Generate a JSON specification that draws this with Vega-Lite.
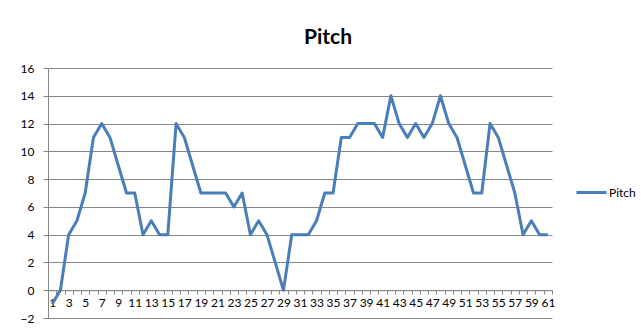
{
  "$schema": "https://vega.github.io/schema/vega-lite/v6.json",
  "autosize": "none",
  "width": 504,
  "height": 250,
  "padding": {"left": 48, "top": 68, "right": 89, "bottom": 13},
  "background": "white",
  "title": {"text": "Pitch", "font": "Lato", "fontSize": 21, "fontWeight": "bold", "color": "#000000", "anchor": "middle", "dx": 28, "dy": 26, "offset": 23, "baseline": "alphabetic"},
  "config": {
    "view": {"stroke": null},
    "font": "Lato"
  },
  "data": {"values": [
    {"x": 1, "y": -1, "s": "Pitch"}, {"x": 2, "y": 0, "s": "Pitch"}, {"x": 3, "y": 4, "s": "Pitch"}, {"x": 4, "y": 5, "s": "Pitch"},
    {"x": 5, "y": 7, "s": "Pitch"}, {"x": 6, "y": 11, "s": "Pitch"}, {"x": 7, "y": 12, "s": "Pitch"}, {"x": 8, "y": 11, "s": "Pitch"},
    {"x": 9, "y": 9, "s": "Pitch"}, {"x": 10, "y": 7, "s": "Pitch"}, {"x": 11, "y": 7, "s": "Pitch"}, {"x": 12, "y": 4, "s": "Pitch"},
    {"x": 13, "y": 5, "s": "Pitch"}, {"x": 14, "y": 4, "s": "Pitch"}, {"x": 15, "y": 4, "s": "Pitch"}, {"x": 16, "y": 12, "s": "Pitch"},
    {"x": 17, "y": 11, "s": "Pitch"}, {"x": 18, "y": 9, "s": "Pitch"}, {"x": 19, "y": 7, "s": "Pitch"}, {"x": 20, "y": 7, "s": "Pitch"},
    {"x": 21, "y": 7, "s": "Pitch"}, {"x": 22, "y": 7, "s": "Pitch"}, {"x": 23, "y": 6, "s": "Pitch"}, {"x": 24, "y": 7, "s": "Pitch"},
    {"x": 25, "y": 4, "s": "Pitch"}, {"x": 26, "y": 5, "s": "Pitch"}, {"x": 27, "y": 4, "s": "Pitch"}, {"x": 28, "y": 2, "s": "Pitch"},
    {"x": 29, "y": 0, "s": "Pitch"}, {"x": 30, "y": 4, "s": "Pitch"}, {"x": 31, "y": 4, "s": "Pitch"}, {"x": 32, "y": 4, "s": "Pitch"},
    {"x": 33, "y": 5, "s": "Pitch"}, {"x": 34, "y": 7, "s": "Pitch"}, {"x": 35, "y": 7, "s": "Pitch"}, {"x": 36, "y": 11, "s": "Pitch"},
    {"x": 37, "y": 11, "s": "Pitch"}, {"x": 38, "y": 12, "s": "Pitch"}, {"x": 39, "y": 12, "s": "Pitch"}, {"x": 40, "y": 12, "s": "Pitch"},
    {"x": 41, "y": 11, "s": "Pitch"}, {"x": 42, "y": 14, "s": "Pitch"}, {"x": 43, "y": 12, "s": "Pitch"}, {"x": 44, "y": 11, "s": "Pitch"},
    {"x": 45, "y": 12, "s": "Pitch"}, {"x": 46, "y": 11, "s": "Pitch"}, {"x": 47, "y": 12, "s": "Pitch"}, {"x": 48, "y": 14, "s": "Pitch"},
    {"x": 49, "y": 12, "s": "Pitch"}, {"x": 50, "y": 11, "s": "Pitch"}, {"x": 51, "y": 9, "s": "Pitch"}, {"x": 52, "y": 7, "s": "Pitch"},
    {"x": 53, "y": 7, "s": "Pitch"}, {"x": 54, "y": 12, "s": "Pitch"}, {"x": 55, "y": 11, "s": "Pitch"}, {"x": 56, "y": 9, "s": "Pitch"},
    {"x": 57, "y": 7, "s": "Pitch"}, {"x": 58, "y": 4, "s": "Pitch"}, {"x": 59, "y": 5, "s": "Pitch"}, {"x": 60, "y": 4, "s": "Pitch"},
    {"x": 61, "y": 4, "s": "Pitch"}
  ]},
  "mark": {"type": "line", "strokeWidth": 3, "strokeJoin": "round"},
  "encoding": {
    "x": {
      "field": "x", "type": "ordinal", "sort": null, "bandPosition": 0.5,
      "scale": {"type": "band", "paddingInner": 0, "paddingOuter": 0},
      "axis": {
        "title": null, "grid": false, "labelAngle": 0, "labelOverlap": false,
        "labelExpr": "datum.value % 2 == 1 ? datum.label : ''",
        "tickBand": "extent", "tickSize": 4, "tickColor": "#868686", "domainColor": "#868686",
        "labelFontSize": 12, "labelColor": "#000000", "labelPadding": 3, "offset": -27.8
      }
    },
    "y": {
      "field": "y", "type": "quantitative",
      "scale": {"domain": [-2, 16], "nice": false, "zero": false},
      "axis": {
        "title": null, "values": [-2, 0, 2, 4, 6, 8, 10, 12, 14, 16],
        "gridColor": "#868686", "gridWidth": 1, "tickColor": "#868686", "tickSize": 5,
        "domainColor": "#868686", "labelFontSize": 12, "labelColor": "#000000", "labelPadding": 9
      }
    },
    "color": {
      "field": "s", "type": "nominal",
      "scale": {"range": ["#4a7ebb"]},
      "legend": {
        "title": null, "orient": "none", "legendX": 527, "legendY": 108,
        "symbolType": "stroke", "symbolSize": 900, "symbolStrokeWidth": 3,
        "labelFontSize": 12, "labelColor": "#000000", "labelOffset": 1
      }
    }
  }
}
